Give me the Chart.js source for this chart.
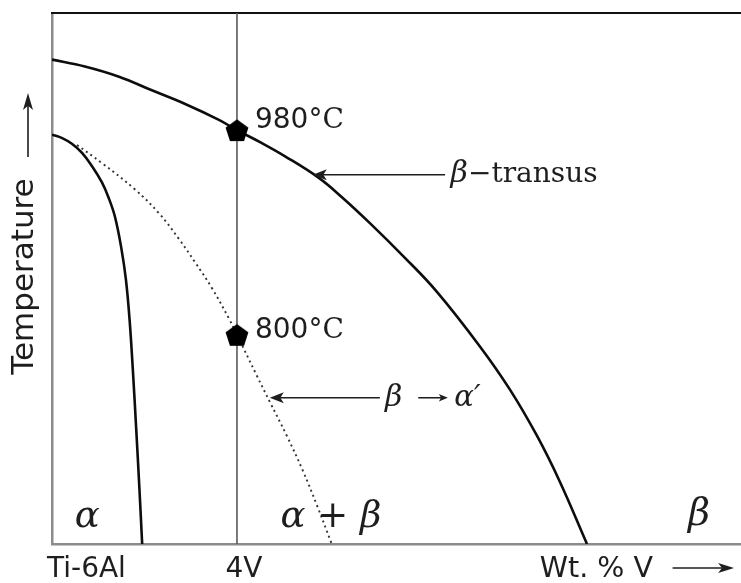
<!DOCTYPE html>
<html>
<head>
<meta charset="utf-8">
<title>Ti-6Al-4V phase diagram</title>
<script src="https://cdn.jsdelivr.net/npm/chart.js@4"></script>
<style>
  html, body { margin: 0; padding: 0; background: #fff; }
  canvas { display: block; }
</style>
</head>
<body>
<canvas id="chart" width="741" height="583"></canvas>
<script>
// Composition axis (wt.% V) and temperature range (°C)
const vRange = [0, 14.9];
const tRange = [616, 1083];

// beta-transus line
const transusV = [0, 0.71, 1.45, 2.16, 2.88, 3.61, 4.0, 4.52, 5.04, 5.77, 6.27, 6.88, 7.6, 8.32, 9.25, 9.9, 10.49, 10.98, 11.57];
const transusT = [1042, 1036, 1027, 1015, 1003, 989, 980, 969, 957, 938, 921, 898, 869, 838, 790, 752, 711, 671, 616];

// alpha / alpha+beta boundary
const alphaV = [0, 0.22, 0.43, 0.65, 0.87, 1.08, 1.22, 1.36, 1.5, 1.6, 1.68, 1.75, 1.82, 1.89, 1.95];
const alphaT = [976, 973, 968, 960, 948, 934, 921, 904, 876, 848, 812, 768, 718, 665, 616];

// beta -> alpha' (martensite start) line
const martV = [0.54, 1.08, 1.79, 2.31, 2.75, 3.09, 3.46, 3.83, 4.0, 4.43, 4.71, 5.08, 5.43, 5.73, 6.05];
const martT = [967, 951, 928, 907, 884, 864, 841, 814, 800, 764, 741, 711, 680, 650, 616];

// Ti-6Al-4V alloy composition and its two marked temperatures
const alloyV = 4;
const markedT = [980, 800];

// Text
const tickLabels = ['Ti-6Al', '4V', 'Wt. % V'];
const axisTitle = 'Temperature';
const regionLabels = ['α', 'α + β', 'β'];

const SANS = '"DejaVu Sans", sans-serif';
const SERIF = '"DejaVu Serif", serif';
const INK = '#1e1e1e';

const toXY = (xs, ys) => xs.map((x, i) => ({ x, y: ys[i] }));

function pentagonSprite(r, color) {
  const s = Math.ceil(2 * r + 4);
  const c = document.createElement('canvas');
  c.width = s; c.height = s;
  const g = c.getContext('2d');
  const cx = s / 2, cy = s / 2 + r * 0.1;
  g.beginPath();
  for (let i = 0; i < 5; i++) {
    const a = -Math.PI / 2 + i * 2 * Math.PI / 5;
    g.lineTo(cx + r * Math.cos(a), cy + r * Math.sin(a));
  }
  g.closePath();
  g.fillStyle = color;
  g.fill();
  return c;
}

function arrow(ctx, x1, y1, x2, y2, head, half, color, width) {
  const ang = Math.atan2(y2 - y1, x2 - x1);
  ctx.save();
  ctx.strokeStyle = color;
  ctx.fillStyle = color;
  ctx.lineWidth = width;
  ctx.beginPath();
  ctx.moveTo(x1, y1);
  ctx.lineTo(x2 - head * 0.7 * Math.cos(ang), y2 - head * 0.7 * Math.sin(ang));
  ctx.stroke();
  ctx.beginPath();
  ctx.moveTo(x2, y2);
  ctx.lineTo(x2 - head * Math.cos(ang) + half * Math.sin(ang), y2 - head * Math.sin(ang) - half * Math.cos(ang));
  ctx.lineTo(x2 - head * 0.75 * Math.cos(ang), y2 - head * 0.75 * Math.sin(ang));
  ctx.lineTo(x2 - head * Math.cos(ang) - half * Math.sin(ang), y2 - head * Math.sin(ang) + half * Math.cos(ang));
  ctx.closePath();
  ctx.fill();
  ctx.restore();
}

// draw a sequence of [text, font] runs starting at (x, y) on the baseline
function runs(ctx, parts, x, y, align) {
  ctx.save();
  ctx.fillStyle = INK;
  ctx.textBaseline = 'alphabetic';
  ctx.textAlign = 'left';
  let total = 0;
  parts.forEach(([t, f]) => { ctx.font = f; total += ctx.measureText(t).width; });
  let cx = align === 'center' ? x - total / 2 : x;
  parts.forEach(([t, f]) => {
    ctx.font = f;
    ctx.fillText(t, cx, y);
    cx += ctx.measureText(t).width;
  });
  ctx.restore();
}

const annotate = {
  id: 'annotate',
  afterDraw(chart) {
    const { ctx } = chart;
    const xs = chart.scales.x, ys = chart.scales.y;
    const px = v => xs.getPixelForValue(v);
    const py = v => ys.getPixelForValue(v);

    // temperature labels beside the marked points
    runs(ctx, [[String(markedT[0]), '28px ' + SANS], ['°C', '28px ' + SERIF]], px(alloyV) + 18, py(markedT[0]) - 2);
    runs(ctx, [[String(markedT[1]), '28px ' + SANS], ['°C', '28px ' + SERIF]], px(alloyV) + 18, py(markedT[1]) + 3);

    // beta-transus callout
    const ya = py(940.7);
    arrow(ctx, px(8.5), ya, px(5.64), ya, 14, 5.5, INK, 1.6);
    runs(ctx, [['β', 'italic 30px ' + SERIF], ['−transus', '28px ' + SERIF]], px(8.62), ya + 7);

    // martensite callout
    const yb = py(744.6);
    arrow(ctx, px(7.09), yb, px(4.71), yb, 14, 5.5, INK, 1.6);
    runs(ctx, [['β', 'italic 30px ' + SERIF]], px(7.2), yb + 8);
    arrow(ctx, px(7.92), yb, px(8.56), yb, 9, 3.8, INK, 1.5);
    runs(ctx, [['α′', 'italic 29px ' + SERIF]], px(8.7), yb + 8);

    // phase-field labels
    const yr = py(631);
    runs(ctx, [[regionLabels[0], 'italic 37px ' + SERIF]], px(0.76), yr, 'center');
    runs(ctx, [[regionLabels[1], 'italic 37px ' + SERIF]], px(6.03), yr, 'center');
    runs(ctx, [[regionLabels[2], 'italic 38px ' + SERIF]], px(13.99), yr - 2, 'center');

    // composition labels under the axis
    const yt = chart.chartArea.bottom + 33;
    runs(ctx, [[tickLabels[0], '28px ' + SANS]], px(0) - 5, yt);
    runs(ctx, [[tickLabels[1], '28px ' + SANS]], px(alloyV) + 7, yt, 'center');
    runs(ctx, [[tickLabels[2], '28.5px ' + SANS]], px(10.55), yt);
    arrow(ctx, px(13.42), yt - 9, px(14.75), yt - 9, 16, 5, INK, 1.6);

    // vertical temperature title with upward arrow
    ctx.save();
    ctx.translate(33, chart.chartArea.top + (chart.chartArea.bottom - chart.chartArea.top) / 2 - 2);
    ctx.rotate(-Math.PI / 2);
    ctx.font = '31px ' + SANS;
    ctx.fillStyle = INK;
    ctx.textAlign = 'center';
    ctx.textBaseline = 'alphabetic';
    ctx.fillText(axisTitle, 0, 0);
    ctx.restore();
    arrow(ctx, 28, 157, 28, 93, 17, 5, INK, 1.6);
  }
};

const hiddenAxis = (extra) => Object.assign({
  type: 'linear',
  grid: { display: false, drawTicks: false },
  ticks: { display: false }
}, extra);

new Chart(document.getElementById('chart'), {
  type: 'scatter',
  data: {
    datasets: [
      {
        label: 'marked temperatures',
        data: markedT.map(t => ({ x: alloyV, y: t })),
        pointStyle: pentagonSprite(12, '#000'),
        pointRadius: 12,
        showLine: false
      },
      {
        label: 'β-transus',
        data: toXY(transusV, transusT),
        showLine: true,
        borderColor: '#0d0d0d',
        borderWidth: 2.6,
        pointRadius: 0,
        tension: 0.4
      },
      {
        label: 'α / α+β',
        data: toXY(alphaV, alphaT),
        showLine: true,
        borderColor: '#0d0d0d',
        borderWidth: 2.6,
        pointRadius: 0,
        tension: 0.4
      },
      {
        label: 'β → α′',
        data: toXY(martV, martT),
        showLine: true,
        borderColor: '#333',
        borderWidth: 1.9,
        borderDash: [2, 3.5],
        pointRadius: 0,
        tension: 0.4
      },
      {
        label: 'Ti-6Al-4V',
        data: [{ x: alloyV, y: tRange[0] }, { x: alloyV, y: tRange[1] }],
        showLine: true,
        borderColor: '#5a5a5a',
        borderWidth: 1.6,
        pointRadius: 0
      }
    ]
  },
  options: {
    responsive: false,
    animation: false,
    events: [],
    layout: { autoPadding: false, padding: { left: 52, top: 13, right: 0, bottom: 39 } },
    plugins: { legend: { display: false }, tooltip: { enabled: false } },
    scales: {
      x: hiddenAxis({ position: 'bottom', min: vRange[0], max: vRange[1], border: { display: true, color: '#8c8c8c', width: 2.5 } }),
      y: hiddenAxis({ position: 'left', min: tRange[0], max: tRange[1], border: { display: true, color: '#8c8c8c', width: 2.5 } }),
      xTop: hiddenAxis({ position: 'top', min: vRange[0], max: vRange[1], border: { display: true, color: '#111', width: 2 } })
    }
  },
  plugins: [annotate]
});
</script>
</body>
</html>
